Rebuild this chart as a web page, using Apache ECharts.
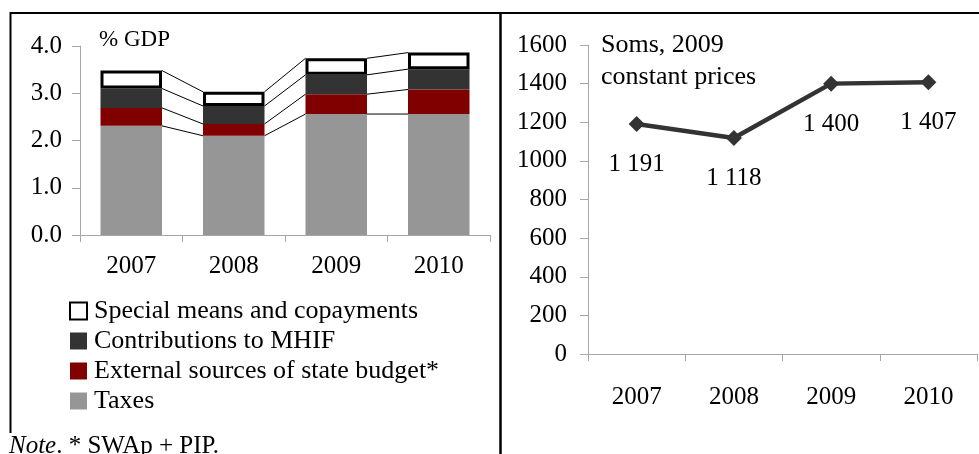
<!DOCTYPE html>
<html>
<head>
<meta charset="utf-8">
<script src="https://cdn.jsdelivr.net/npm/echarts@6/dist/echarts.min.js"></script>
<style>
html,body{margin:0;padding:0;background:#fff;}
#c{width:979px;height:454px;}
</style>
</head>
<body>
<div id="c"></div>
<script>
// ---- data ----
const years = ['2007', '2008', '2009', '2010'];
const taxes = [2.31, 2.10, 2.56, 2.56];
const externalSrc = [0.38, 0.25, 0.42, 0.52];
const mhif = [0.41, 0.38, 0.41, 0.43];
const special = [0.38, 0.30, 0.35, 0.35];
const soms = [1191, 1118, 1400, 1407];
const leftTicks = [0, 1, 2, 3, 4];
const rightTicks = [0, 200, 400, 600, 800, 1000, 1200, 1400, 1600];

const FONT = '"Liberation Serif", "Times New Roman", serif';
const AXIS_GRAY = '#a6a6a6';

// cumulative stack tops per level for series lines
const stackArrays = [taxes, externalSrc, mhif, special];
const cum = [];
stackArrays.forEach((arr, lvl) => {
  cum.push(arr.map((v, i) => (lvl === 0 ? 0 : cum[lvl - 1][i]) + v));
});
const segs = [];
for (let i = 0; i < years.length - 1; i++) {
  for (let l = 0; l < stackArrays.length; l++) segs.push([i, l]);
}

const chart = echarts.init(document.getElementById('c'));
const option = {
  animation: false,
  textStyle: { fontFamily: FONT },
  grid: [
    { left: 80, right: 489, top: 46, bottom: 219 },
    { left: 588, right: 2, top: 45, bottom: 100 }
  ],
  xAxis: [
    {
      gridIndex: 0, type: 'category', data: years, boundaryGap: true,
      axisLine: { lineStyle: { color: AXIS_GRAY, width: 1 } },
      axisTick: { show: true, length: 7, lineStyle: { color: AXIS_GRAY } },
      axisLabel: { color: '#000', fontSize: 25, fontFamily: FONT, margin: 19 }
    },
    {
      gridIndex: 1, type: 'category', data: years, boundaryGap: true,
      axisLine: { lineStyle: { color: AXIS_GRAY, width: 1 } },
      axisTick: { show: true, length: 7, lineStyle: { color: AXIS_GRAY } },
      axisLabel: { color: '#000', fontSize: 25, fontFamily: FONT, margin: 31 }
    }
  ],
  yAxis: [
    {
      gridIndex: 0, type: 'value', min: leftTicks[0], max: leftTicks[leftTicks.length - 1], interval: 1,
      axisLine: { show: true, lineStyle: { color: AXIS_GRAY, width: 1 } },
      axisTick: { show: true, length: 8, lineStyle: { color: AXIS_GRAY } },
      splitLine: { show: false },
      axisLabel: { color: '#000', fontSize: 25, fontFamily: FONT, margin: 18, formatter: v => v.toFixed(1) }
    },
    {
      gridIndex: 1, type: 'value', min: rightTicks[0], max: rightTicks[rightTicks.length - 1], interval: 200,
      axisLine: { show: true, lineStyle: { color: AXIS_GRAY, width: 1 } },
      axisTick: { show: true, length: 8, lineStyle: { color: AXIS_GRAY } },
      splitLine: { show: false },
      axisLabel: { color: '#000', fontSize: 25, fontFamily: FONT, margin: 21, formatter: v => String(v) }
    }
  ],
  legend: {
    orient: 'vertical', left: 69, top: 298, padding: 0, itemWidth: 17, itemHeight: 17, itemGap: 4,
    textStyle: { color: '#000', fontSize: 26, fontFamily: FONT, padding: [0, 0, 0, 2] },
    data: [
      { name: 'Special means and copayments', icon: 'rect', itemStyle: { color: '#fff', borderColor: '#000', borderWidth: 2 } },
      { name: 'Contributions to MHIF', icon: 'rect' },
      { name: 'External sources of state budget*', icon: 'rect' },
      { name: 'Taxes', icon: 'rect' }
    ]
  },
  series: [
    { name: 'Taxes', type: 'bar', stack: 's', xAxisIndex: 0, yAxisIndex: 0, barWidth: '60%', data: taxes,
      itemStyle: { color: '#969696' } },
    { name: 'External sources of state budget*', type: 'bar', stack: 's', xAxisIndex: 0, yAxisIndex: 0, data: externalSrc,
      itemStyle: { color: '#800000' } },
    { name: 'Contributions to MHIF', type: 'bar', stack: 's', xAxisIndex: 0, yAxisIndex: 0, data: mhif,
      itemStyle: { color: '#333333' } },
    { name: 'Special means and copayments', type: 'bar', stack: 's', xAxisIndex: 0, yAxisIndex: 0, data: special,
      itemStyle: { color: '#ffffff', borderColor: '#000', borderWidth: 3 } },
    {
      type: 'custom', xAxisIndex: 0, yAxisIndex: 0, silent: true, z: 1,
      data: segs,
      renderItem: function (params, api) {
        const i = api.value(0), l = api.value(1);
        const half = api.size([1, 0])[0] * 0.3;
        const p1 = api.coord([i, cum[l][i]]);
        const p2 = api.coord([i + 1, cum[l][i + 1]]);
        return {
          type: 'line',
          shape: { x1: p1[0] + half, y1: p1[1], x2: p2[0] - half, y2: p2[1] },
          style: { stroke: '#000', lineWidth: 1 }
        };
      }
    },
    {
      name: 'Soms', type: 'line', xAxisIndex: 1, yAxisIndex: 1, data: soms,
      symbol: 'diamond', symbolSize: 16,
      lineStyle: { color: '#333333', width: 4.5 },
      itemStyle: { color: '#333333' },
      label: {
        show: true, position: 'bottom', distance: 20, color: '#000', fontSize: 25, fontFamily: FONT,
        formatter: p => String(p.value).replace(/\B(?=(\d{3})+(?!\d))/g, ' ')
      }
    }
  ],
  graphic: [
    { type: 'line', shape: { x1: 10, y1: 13, x2: 979, y2: 13 }, style: { stroke: '#000', lineWidth: 2 } },
    { type: 'line', shape: { x1: 10.5, y1: 12, x2: 10.5, y2: 433 }, style: { stroke: '#000', lineWidth: 2 } },
    { type: 'line', shape: { x1: 500.5, y1: 12, x2: 500.5, y2: 454 }, style: { stroke: '#000', lineWidth: 2.5 } },
    { type: 'text', left: 99, top: 28, style: { text: '% GDP', fontSize: 23, fontFamily: FONT, fill: '#000' } },
    { type: 'text', left: 601, top: 32, style: { text: 'Soms, 2009', fontSize: 26, fontFamily: FONT, fill: '#000' } },
    { type: 'text', left: 601, top: 64, style: { text: 'constant prices', fontSize: 26, fontFamily: FONT, fill: '#000' } },
    { type: 'text', left: 9, top: 434, style: {
        text: '{i|Note}. * SWAp + PIP.', fontSize: 25, fontFamily: FONT, fill: '#000',
        rich: { i: { fontStyle: 'italic', fontSize: 25, fontFamily: FONT } } } }
  ]
};
chart.setOption(option);
</script>
</body>
</html>
